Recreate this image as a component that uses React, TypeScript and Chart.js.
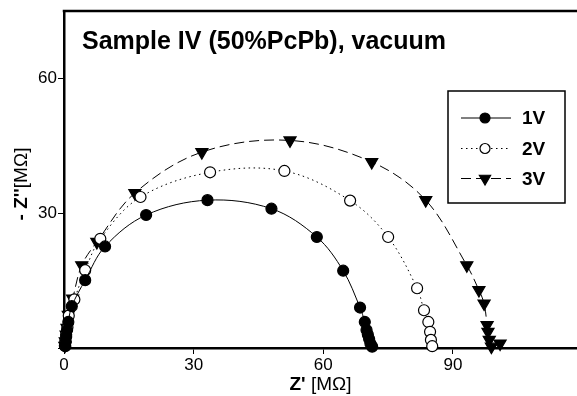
import React, { useEffect, useRef } from "react";
import { Chart, registerables } from "chart.js";

Chart.register(...registerables);

const FONT = "'Liberation Sans', Arial, Helvetica, sans-serif";

const titleText = "Sample IV (50%PcPb), vacuum";
const xTitleBold = "Z'";
const xTitleRest = " [MΩ]";
const yTitleBold = "- Z''";
const yTitleRest = "[MΩ]";

const seriesLabels = ["1V", "2V", "3V"];

const x1V = [0.3, 0.4, 0.5, 0.7, 1.0, 1.8, 4.9, 9.5, 19.0, 33.2, 48.0, 58.5, 64.6, 68.5, 69.6, 70.0, 70.3, 70.6, 70.9, 71.3];
const y1V = [0.4, 1.4, 2.6, 4.0, 5.8, 9.3, 15.1, 22.6, 29.6, 32.9, 31.0, 24.7, 17.2, 9.0, 5.8, 4.0, 3.0, 2.0, 1.0, 0.3];

const x2V = [0.2, 0.3, 0.5, 0.8, 1.1, 2.4, 4.9, 8.4, 17.7, 33.8, 51.0, 66.2, 75.0, 81.7, 83.3, 84.3, 84.7, 84.9, 85.2];
const y2V = [0.5, 1.5, 3.0, 4.6, 7.2, 10.8, 17.3, 24.3, 33.6, 39.1, 39.4, 32.8, 24.7, 13.3, 8.4, 5.8, 3.6, 1.8, 0.4];

const x3V = [0.2, 0.3, 0.5, 0.7, 1.0, 2.0, 4.1, 7.6, 16.4, 31.9, 52.3, 71.2, 83.7, 93.2, 96.0, 97.2, 97.9, 98.1, 98.4, 98.9, 100.9];
const y3V = [0.5, 1.5, 3.0, 4.5, 7.4, 11.0, 18.4, 23.6, 34.5, 43.6, 46.2, 41.4, 32.9, 18.4, 12.9, 9.9, 5.1, 3.6, 1.8, 0.3, 1.0];

const X_MIN = 0;
const X_MAX = 118.7;
const Y_MIN = 0;
const Y_MAX = 75;
const TICK_STEP = 30;

const toPoints = (xs: number[], ys: number[]) => xs.map((x, i) => ({ x, y: ys[i] }));

const legendStyles = [
  { dash: [] as number[], shape: "circle", fill: "#000" },
  { dash: [1.5, 3.5], shape: "circle", fill: "#fff" },
  { dash: [10, 5], shape: "triangle", fill: "#000" },
];

function drawMarker(ctx: CanvasRenderingContext2D, shape: string, fill: string, x: number, y: number) {
  ctx.save();
  ctx.setLineDash([]);
  ctx.lineWidth = 1.2;
  ctx.strokeStyle = "#000";
  ctx.fillStyle = fill;
  ctx.beginPath();
  if (shape === "circle") {
    ctx.arc(x, y, 5, 0, Math.PI * 2);
  } else {
    const r = 6.5;
    ctx.moveTo(x, y + r);
    ctx.lineTo(x - r * 0.866, y - r * 0.5);
    ctx.lineTo(x + r * 0.866, y - r * 0.5);
    ctx.closePath();
  }
  ctx.fill();
  ctx.stroke();
  ctx.restore();
}

const decorPlugin = {
  id: "decor",
  afterDraw(chart: any) {
    const ctx: CanvasRenderingContext2D = chart.ctx;
    const { left, top, right } = chart.chartArea;
    ctx.save();
    // top frame line
    ctx.strokeStyle = "#000";
    ctx.lineWidth = 2.5;
    ctx.beginPath();
    ctx.moveTo(left - 1.25, top);
    ctx.lineTo(right, top);
    ctx.stroke();

    // title
    ctx.fillStyle = "#000";
    ctx.textAlign = "left";
    ctx.textBaseline = "alphabetic";
    ctx.font = `bold 25px ${FONT}`;
    ctx.fillText(titleText, left + 18, top + 38);

    // legend box
    const bx = 448;
    const by = 91;
    const bw = 117;
    const bh = 112;
    ctx.lineWidth = 1.5;
    ctx.strokeRect(bx, by, bw, bh);
    const rowsY = [118, 148.5, 178.5];
    seriesLabels.forEach((lab, i) => {
      const yy = rowsY[i];
      const st = legendStyles[i];
      ctx.save();
      ctx.lineWidth = 1;
      ctx.setLineDash(st.dash);
      ctx.beginPath();
      ctx.moveTo(461, yy);
      ctx.lineTo(511, yy);
      ctx.stroke();
      ctx.restore();
      drawMarker(ctx, st.shape, st.fill, 485, yy);
      ctx.fillStyle = "#000";
      ctx.font = `bold 19px ${FONT}`;
      ctx.textAlign = "left";
      ctx.textBaseline = "middle";
      ctx.fillText(lab, 522, yy + 1);
    });

    // x axis title
    ctx.textBaseline = "alphabetic";
    ctx.font = `bold 19px ${FONT}`;
    const wb = ctx.measureText(xTitleBold).width;
    ctx.font = `19px ${FONT}`;
    const wr = ctx.measureText(xTitleRest).width;
    const sx = (left + right) / 2 - (wb + wr) / 2;
    ctx.font = `bold 19px ${FONT}`;
    ctx.fillText(xTitleBold, sx, 390);
    ctx.font = `19px ${FONT}`;
    ctx.fillText(xTitleRest, sx + wb, 390);

    // y axis title (rotated)
    ctx.save();
    ctx.translate(27, 184);
    ctx.rotate(-Math.PI / 2);
    ctx.font = `bold 19px ${FONT}`;
    const yb = ctx.measureText(yTitleBold).width;
    ctx.font = `19px ${FONT}`;
    const yr = ctx.measureText(yTitleRest).width;
    const ys = -(yb + yr) / 2;
    ctx.font = `bold 19px ${FONT}`;
    ctx.fillText(yTitleBold, ys, 0);
    ctx.font = `19px ${FONT}`;
    ctx.fillText(yTitleRest, ys + yb, 0);
    ctx.restore();

    ctx.restore();
  },
};

export default function App() {
  const ref = useRef<HTMLCanvasElement | null>(null);
  useEffect(() => {
    if (!ref.current) return;
    const common = {
      borderColor: "#000",
      borderWidth: 1,
      pointBorderColor: "#000",
      pointBorderWidth: 1.2,
      tension: 0.35,
      clip: false as any,
      showLine: true,
      fill: false,
    };
    const chart = new Chart(ref.current, {
      type: "line",
      data: {
        datasets: [
          {
            ...common,
            label: seriesLabels[0],
            data: toPoints(x1V, y1V),
            pointStyle: "circle",
            pointRadius: 5.5,
            pointBackgroundColor: "#000",
          },
          {
            ...common,
            label: seriesLabels[1],
            data: toPoints(x2V, y2V),
            borderDash: [1.5, 3.5],
            pointStyle: "circle",
            pointRadius: 5.5,
            pointBackgroundColor: "#fff",
          },
          {
            ...common,
            label: seriesLabels[2],
            data: toPoints(x3V, y3V),
            borderDash: [10, 5],
            pointStyle: "triangle",
            pointRotation: 180,
            pointRadius: 7,
            pointBackgroundColor: "#000",
          },
        ] as any,
      },
      options: {
        responsive: false,
        animation: false,
        devicePixelRatio: 1,
        layout: { autoPadding: false, padding: { top: 11, right: 0, left: 0, bottom: 0 } },
        plugins: {
          legend: { display: false },
          title: { display: false },
          tooltip: { enabled: false },
        },
        scales: {
          x: {
            type: "linear",
            min: X_MIN,
            max: X_MAX,
            afterFit: (s: any) => {
              s.height = 48;
              s.paddingLeft = 0;
              s.paddingRight = 0;
            },
            border: { color: "#000", width: 2.5 },
            grid: { display: true, drawOnChartArea: false, drawTicks: true, tickLength: 6, color: "#000", lineWidth: 1 },
            ticks: {
              stepSize: TICK_STEP,
              includeBounds: false,
              color: "#000",
              font: { size: 17, family: FONT },
              padding: 1,
              maxRotation: 0,
            },
          },
          y: {
            type: "linear",
            min: Y_MIN,
            max: Y_MAX,
            afterFit: (s: any) => {
              s.width = 64;
              s.paddingTop = 0;
              s.paddingBottom = 0;
            },
            border: { color: "#000", width: 2.5 },
            grid: { display: true, drawOnChartArea: false, drawTicks: true, tickLength: 6, color: "#000", lineWidth: 1 },
            ticks: {
              stepSize: TICK_STEP,
              includeBounds: false,
              color: "#000",
              font: { size: 17, family: FONT },
              padding: 1,
              callback: (v: any) => (v === 0 ? "" : String(v)),
            },
          },
        },
      } as any,
      plugins: [decorPlugin],
    });
    return () => chart.destroy();
  }, []);
  return (
    <div style={{ position: "fixed", left: 0, top: 0, width: 577, height: 396, background: "#fff" }}>
      <canvas ref={ref} width={577} height={396} style={{ width: 577, height: 396, display: "block" }} />
    </div>
  );
}
